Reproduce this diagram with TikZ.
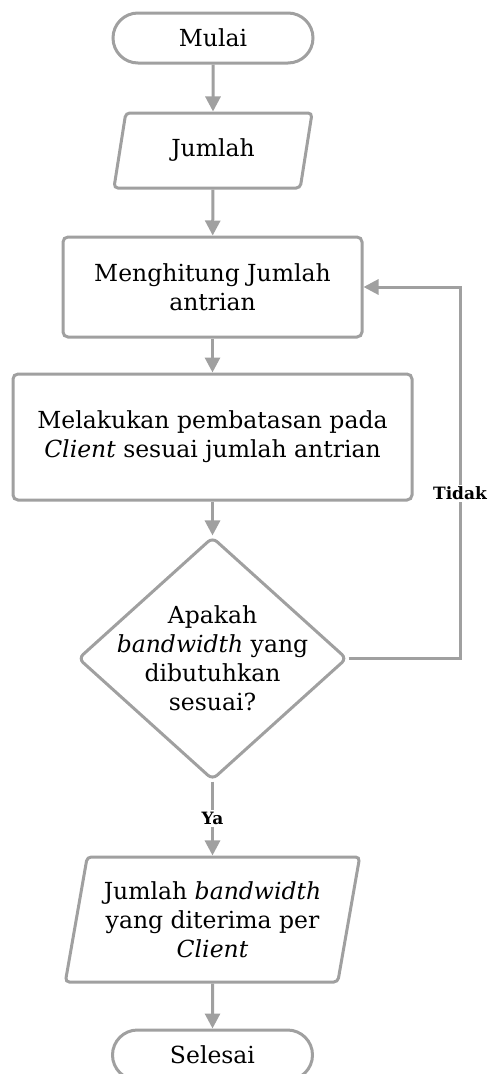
\documentclass[tikz,border=0pt]{standalone}
\usepackage{fontspec}
\setmainfont{DejaVu Serif}
\usetikzlibrary{shapes.geometric,shapes.misc,arrows.meta}
\definecolor{lc}{HTML}{A0A0A0}
\begin{document}
\begin{tikzpicture}[x=1pt,y=-1pt,
 txt/.style={align=center,font=\fontsize{23.5}{29}\selectfont,inner sep=0pt},
 base/.style={txt,draw=lc,line width=3pt},
 term/.style={base,rounded rectangle,minimum width=200pt,minimum height=50pt},
 io/.style={base,trapezium,trapezium left angle=76,trapezium right angle=104,trapezium stretches=true,rounded corners=4pt},
 proc/.style={base,rectangle,rounded corners=5pt},
 dec/.style={draw=lc,line width=3pt,diamond,rounded corners=6pt,inner sep=0pt},
 conn/.style={draw=lc,line width=3pt,-{Triangle[length=15pt,width=15pt]}},
 lab/.style={font=\fontsize{17}{20}\selectfont\bfseries,fill=white,inner sep=2pt}]
\useasboundingbox (0,0) rectangle (488,1074);
\node[term] (start) at (213,38) {Mulai};
\node[io, minimum width=199pt, minimum height=75pt] (in) at (213,150.5) {Jumlah};
\node[proc, minimum width=299pt, minimum height=100pt] (calc) at (212.5,287) {Menghitung Jumlah\\antrian};
\node[proc, minimum width=399pt, minimum height=126pt] (limit) at (212.5,437) {Melakukan pembatasan pada\\\textit{Client} sesuai jumlah antrian};
\node[dec, minimum width=269pt, minimum height=243pt] (q) at (212.5,658.5) {};
\node[txt] (qt) at (q.center) {Apakah\\\textit{bandwidth} yang\\dibutuhkan\\sesuai?};
\node[io, minimum width=295pt, minimum height=125pt] (out) at (212.5,919.5) {Jumlah \textit{bandwidth}\\yang diterima per\\\textit{Client}};
\node[term] (end) at (212.5,1055) {Selesai};
\coordinate (c1) at (460,658.5);
\coordinate (c2) at (460,287);
\draw[conn] (start) -- (in);
\draw[conn] (in) -- (calc);
\draw[conn] (calc) -- (limit);
\draw[conn] (limit) -- (q);
\draw[conn] (q) -- node[lab] (ya) {Ya} (out);
\draw[conn] (out) -- (end);
\draw[conn] (q.east) -- (c1) -- node[lab, pos=0.445] (tidak) {Tidak} (c2) -- (calc.east);
\end{tikzpicture}
\end{document}
